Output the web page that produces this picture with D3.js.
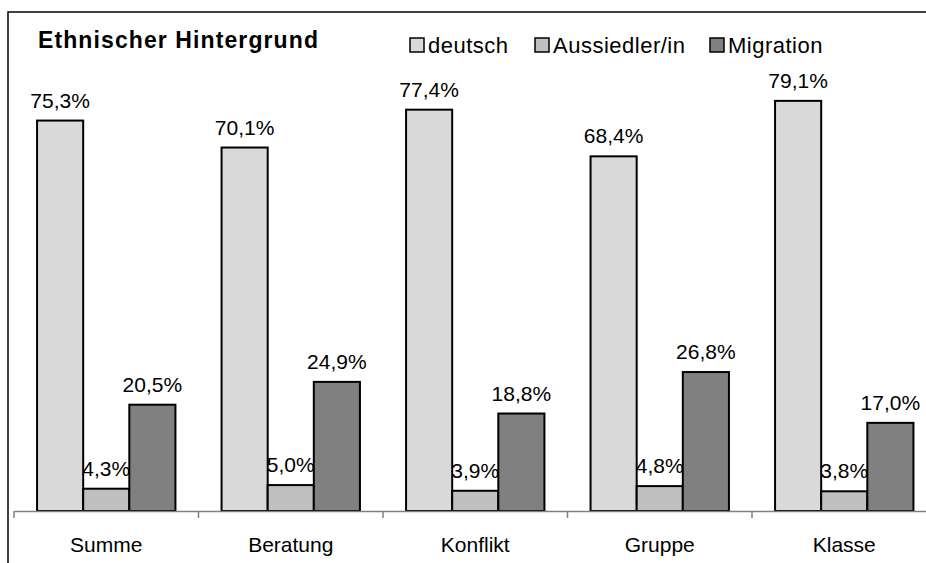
<!DOCTYPE html>
<meta charset='utf-8'>
<style>
body { margin: 0; background: #fff; overflow: hidden; }
svg { display: block; }
svg text { font-family: 'Liberation Sans', Arial, sans-serif; fill: #000; }
.title { font-size: 23px; font-weight: bold; letter-spacing: 1.1px; }
.legend text { font-size: 22px; letter-spacing: 0.5px; }
.val { font-size: 21px; text-anchor: middle; }
.cat { font-size: 21px; text-anchor: middle; }
.bar { stroke: #000; stroke-width: 2px; }
.axis .domain { stroke: #808080; stroke-width: 1.5px; }
.axis line { stroke: #808080; stroke-width: 1.5px; }
.frame { stroke: #000; stroke-width: 1.5px; fill: none; }
</style>
<body>
<script src='https://d3js.org/d3.v7.min.js'></script>
<script>
'use strict'

// Data

let categories = ['Summe', 'Beratung', 'Konflikt', 'Gruppe', 'Klasse']
let series = ['deutsch', 'Aussiedler/in', 'Migration']
let deutsch = [75.3, 70.1, 77.4, 68.4, 79.1]
let aussiedler = [4.3, 5.0, 3.9, 4.8, 3.8]
let migration = [20.5, 24.9, 18.8, 26.8, 17.0]
let colors = ['#d9d9d9', '#c0c0c0', '#808080']
let title = 'Ethnischer Hintergrund'

let values = [deutsch, aussiedler, migration]
let rows = []
categories.forEach((c, i) => series.forEach((s, j) =>
	rows.push({cat: c, ser: s, v: values[j][i], col: colors[j]})))


// Scales

let W = 926, H = 563,
	x = d3.scaleBand().domain(categories).range([14, 14 + 184.5 * 5]),
	xs = d3.scaleBand().domain(series)
		.range([x.bandwidth() * 0.125, x.bandwidth() * 0.875]),
	y = d3.scaleLinear().domain([0, 90]).range([511, 511 - 90 * 5.185])

let fmt = v => v.toFixed(1).replace('.', ',') + '%'

let svg = d3.select('body').append('svg')
	.attr('width', W).attr('height', H)

// frame (top and left edges visible)
svg.append('path').attr('class', 'frame')
	.attr('d', `M8,${H} L8,12 L${W},12`)

svg.append('text').attr('class', 'title')
	.attr('x', 38).attr('y', 47.5).text(title)


// Bars

let bars = svg.append('g')
bars.selectAll('rect').data(rows).enter().append('rect')
	.attr('class', 'bar')
	.attr('x', d => x(d.cat) + xs(d.ser))
	.attr('width', xs.bandwidth())
	.attr('y', d => y(d.v))
	.attr('height', d => y(0) - y(d.v))
	.attr('fill', d => d.col)

bars.selectAll('text').data(rows).enter().append('text')
	.attr('class', 'val')
	.attr('x', d => x(d.cat) + xs(d.ser) + xs.bandwidth() / 2)
	.attr('y', d => y(d.v) - 13)
	.text(d => fmt(d.v))


// Axis

let axis = svg.append('g').attr('class', 'axis')
	.attr('transform', `translate(0,${y(0)})`)
	.call(d3.axisBottom(x).tickSize(0).tickSizeOuter(0).tickFormat(''))
axis.selectAll('.boundary').data(categories).enter().append('line')
	.attr('class', 'boundary')
	.attr('x1', d => x(d)).attr('x2', d => x(d))
	.attr('y1', 0).attr('y2', 7)

svg.append('g').selectAll('text').data(categories).enter().append('text')
	.attr('class', 'cat')
	.attr('x', d => x(d) + x.bandwidth() / 2)
	.attr('y', 552)
	.text(d => d)


// Legend

let legX = [410, 535, 710]
let leg = svg.append('g').attr('class', 'legend')
	.selectAll('g').data(series).enter().append('g')
	.attr('transform', (d, i) => `translate(${legX[i]},38)`)
leg.append('rect')
	.attr('width', 14).attr('height', 14)
	.attr('fill', (d, i) => colors[i]).attr('stroke', '#000').attr('stroke-width', 1.5)
leg.append('text')
	.attr('x', 18).attr('y', 14.5).text(d => d)

</script>
</body>
